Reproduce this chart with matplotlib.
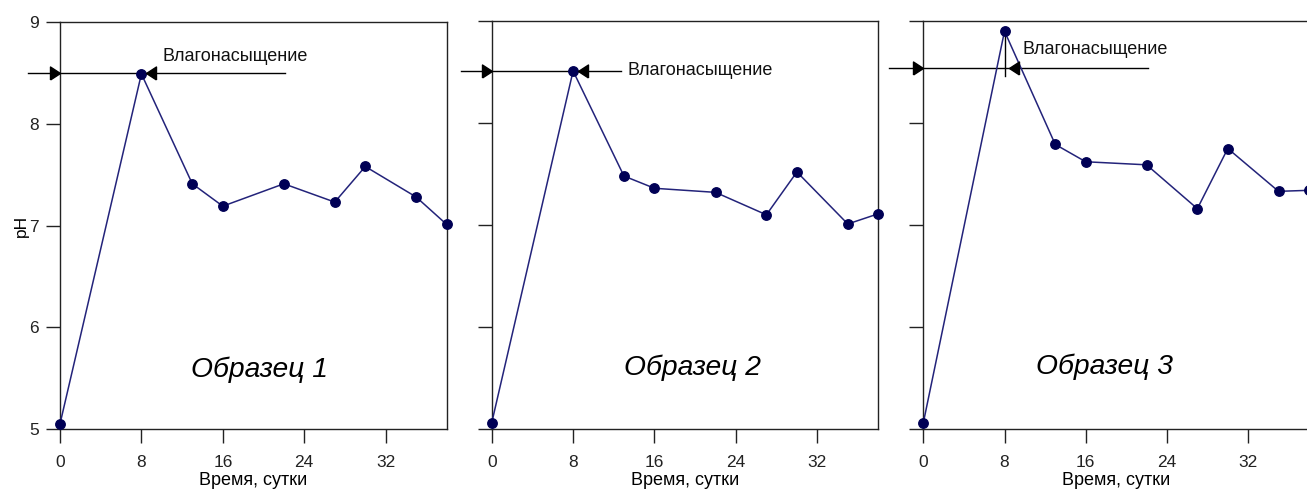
import matplotlib
matplotlib.use("Agg")
import matplotlib.pyplot as plt

plt.rcParams['font.family'] = ['Liberation Sans', 'DejaVu Sans']

# ---- data ----
days = [0, 8, 13, 16, 22, 27, 30, 35, 38]
ph_sample1 = [5.05, 8.49, 7.41, 7.19, 7.41, 7.23, 7.58, 7.28, 7.01]
ph_sample2 = [5.06, 8.51, 7.48, 7.36, 7.32, 7.10, 7.52, 7.01, 7.11]
ph_sample3 = [5.06, 8.90, 7.79, 7.62, 7.59, 7.16, 7.75, 7.33, 7.34]
series = [ph_sample1, ph_sample2, ph_sample3]
sample_labels = ["Образец 1", "Образец 2", "Образец 3"]
saturation_level = [8.50, 8.51, 8.54]
saturation_day = 8
saturation_text = "Влагонасыщение"
xticks = [0, 8, 16, 24, 32]
yticks = [5, 6, 7, 8, 9]
xlabel = "Время, сутки"
ylabel = "pH"

# ---- layout (pixel based) ----
W, H = 1307, 491
fig = plt.figure(figsize=(W / 100, H / 100), dpi=100)

panels = [
    dict(left=60, right=446.7, top=22, bottom=429,
         line=(-3.1, 22.1), text=(10.1, 8.66), vtick=False,
         label=(19.6, 5.58)),
    dict(left=491.7, right=878.3, top=21, bottom=429,
         line=(-3.05, 12.7), text=(13.3, None), vtick=False,
         label=(19.7, 5.6)),
    dict(left=923.3, right=1309, top=21, bottom=429,
         line=(-3.4, 22.1), text=(9.8, 8.72), vtick=True,
         label=(17.9, 5.61)),
]

line_color = '#23237a'
marker_color = '#000055'
tri_right = [(-1, -0.65), (0, 0), (-1, 0.65), (-1, -0.65)]
tri_left = [(1, -0.65), (0, 0), (1, 0.65), (1, -0.65)]

for i, (p, ph) in enumerate(zip(panels, series)):
    ax = fig.add_axes([p['left'] / W, 1 - p['bottom'] / H,
                       (p['right'] - p['left']) / W, (p['bottom'] - p['top']) / H])
    ax.plot(days, ph, color=line_color, lw=1.1, marker='o', ms=6.8,
            mfc=marker_color, mec=marker_color, clip_on=False, zorder=3)
    ax.set_xlim(0, 38)
    ax.set_ylim(5, 9)
    ax.set_xticks(xticks)
    ax.set_yticks(yticks)
    ax.tick_params(direction='out', length=10, width=1.0, labelsize=12.5,
                   colors='#222222', pad=5)
    ax.tick_params(axis='x', pad=8.5)
    for s in ax.spines.values():
        s.set_linewidth(1.0)
        s.set_color('#222222')
    if i > 0:
        ax.set_yticklabels([])
    else:
        ax.set_ylabel(ylabel, fontsize=12.5, labelpad=0)
    ax.set_xlabel(xlabel, fontsize=13, labelpad=1.5)

    # saturation marker
    lvl = saturation_level[i]
    x0, x1 = p['line']
    ax.plot([x0, x1], [lvl, lvl], color='black', lw=1.0, clip_on=False, zorder=2)
    ax.plot([0], [lvl], marker=tri_right, ms=14.4, color='black',
            clip_on=False, zorder=4, linestyle='none')
    ax.plot([saturation_day + 0.45], [lvl], marker=tri_left, ms=14.4, color='black',
            clip_on=False, zorder=4, linestyle='none')
    if p['vtick']:
        ax.plot([saturation_day, saturation_day], [lvl - 0.08, lvl + 0.39],
                color='black', lw=1.0, zorder=2)
    tx, ty = p['text']
    ax.text(tx, lvl if ty is None else ty, saturation_text, fontsize=13,
            ha='left', va='center', color='#111111')

    lx, ly = p['label']
    ax.text(lx, ly, sample_labels[i], fontsize=20.3, style='italic',
            ha='center', va='center', color='black')

fig.savefig('out.png', dpi=100)
